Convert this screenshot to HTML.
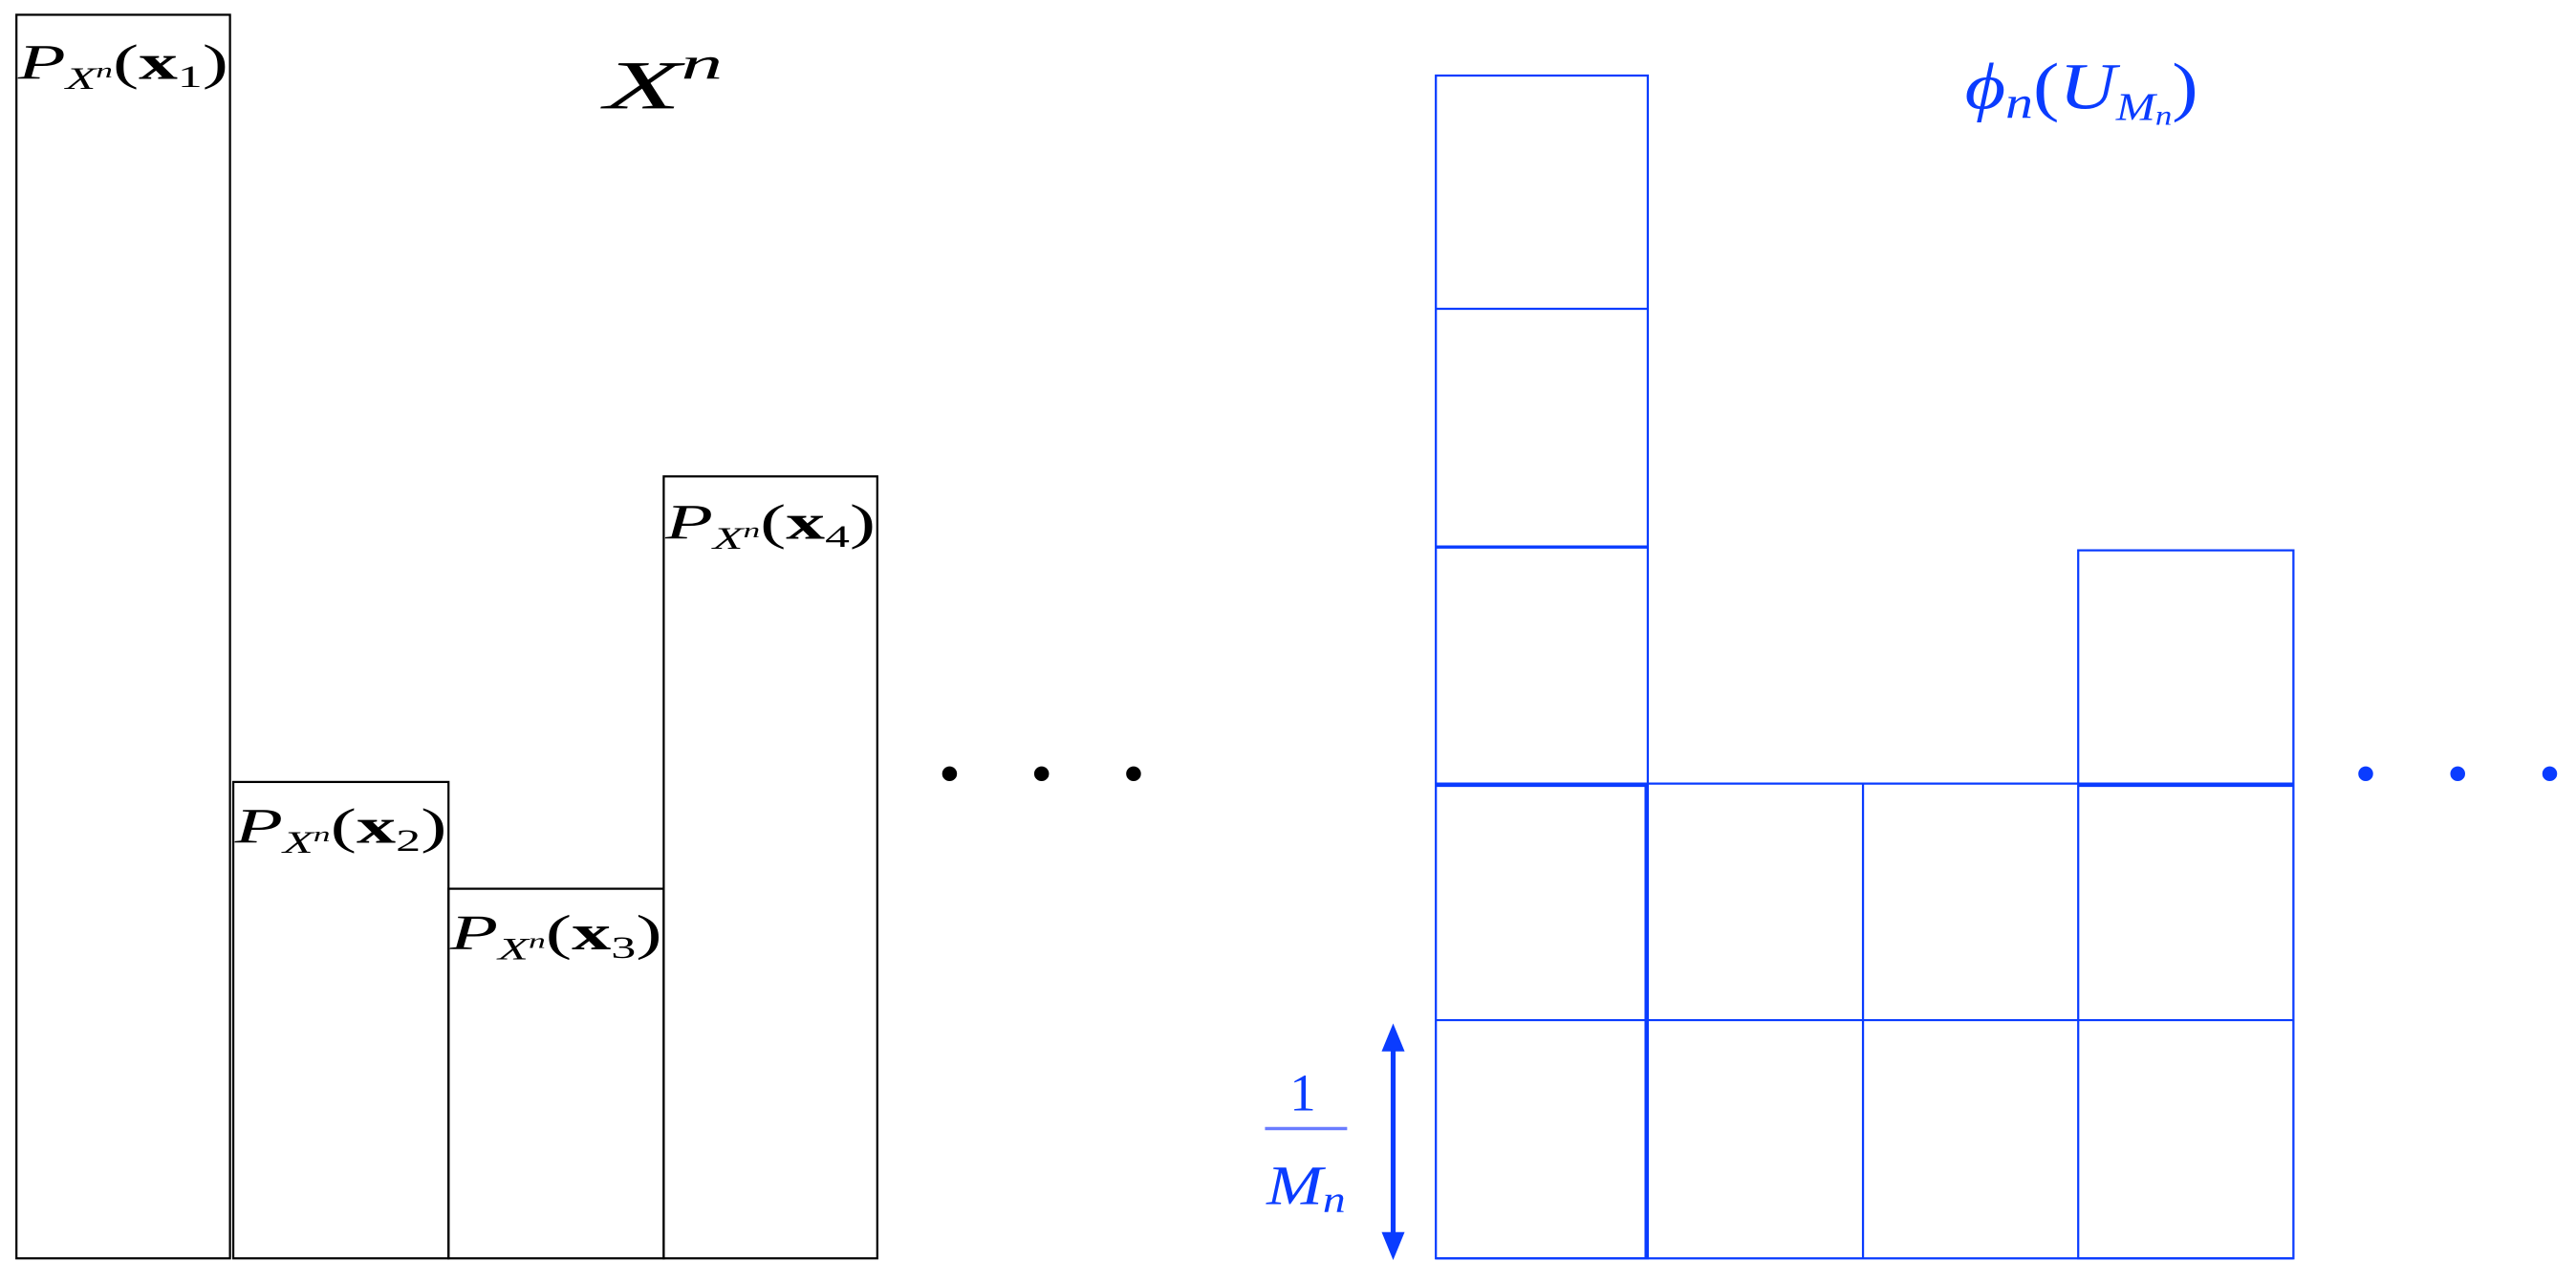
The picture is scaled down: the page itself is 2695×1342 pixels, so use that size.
<!DOCTYPE html>
<html><head><style>html,body{margin:0;padding:0;background:#fff;}svg{display:block}</style></head>
<body>
<svg width="2695" height="1342" viewBox="0 0 1568 781" preserveAspectRatio="none" xmlns="http://www.w3.org/2000/svg">
<g fill="none" stroke="#000" stroke-width="1.3">
<rect x="10" y="9" width="130" height="757"/>
<rect x="142" y="476" width="131" height="290"/>
<rect x="273" y="541" width="131" height="225"/>
<rect x="404" y="290" width="130" height="476"/>
</g>
<g font-family="Liberation Serif, serif" font-size="30" fill="#000">
<text x="11" y="48" textLength="128" lengthAdjust="spacingAndGlyphs"><tspan font-style="italic">P</tspan><tspan font-style="italic" font-size="19" dy="6">X</tspan><tspan font-style="italic" font-size="13" dy="-7">n</tspan><tspan dy="1">(</tspan><tspan font-weight="bold">x</tspan><tspan font-size="19" dy="5">1</tspan><tspan dy="-5">)</tspan></text>
<text x="143" y="513" textLength="129" lengthAdjust="spacingAndGlyphs"><tspan font-style="italic">P</tspan><tspan font-style="italic" font-size="19" dy="6">X</tspan><tspan font-style="italic" font-size="13" dy="-7">n</tspan><tspan dy="1">(</tspan><tspan font-weight="bold">x</tspan><tspan font-size="19" dy="5">2</tspan><tspan dy="-5">)</tspan></text>
<text x="274" y="578" textLength="129" lengthAdjust="spacingAndGlyphs"><tspan font-style="italic">P</tspan><tspan font-style="italic" font-size="19" dy="6">X</tspan><tspan font-style="italic" font-size="13" dy="-7">n</tspan><tspan dy="1">(</tspan><tspan font-weight="bold">x</tspan><tspan font-size="19" dy="5">3</tspan><tspan dy="-5">)</tspan></text>
<text x="405" y="328" textLength="128" lengthAdjust="spacingAndGlyphs"><tspan font-style="italic">P</tspan><tspan font-style="italic" font-size="19" dy="6">X</tspan><tspan font-style="italic" font-size="13" dy="-7">n</tspan><tspan dy="1">(</tspan><tspan font-weight="bold">x</tspan><tspan font-size="19" dy="5">4</tspan><tspan dy="-5">)</tspan></text>
<text x="368" y="66" font-size="42" font-style="italic" textLength="72" lengthAdjust="spacingAndGlyphs">X<tspan font-size="28" dy="-18">n</tspan></text>
</g>
<g fill="#000"><circle cx="578" cy="471" r="4.5"/><circle cx="634" cy="471" r="4.5"/><circle cx="690" cy="471" r="4.5"/></g>
<g fill="none" stroke="#0a3cff" stroke-width="1.3">
<rect x="874" y="46" width="129" height="720"/>
<line x1="874" y1="188" x2="1003" y2="188"/>
<line x1="874" y1="333" x2="1003" y2="333" stroke-width="2"/>
<line x1="874" y1="477" x2="1396" y2="477" stroke-width="1.3"/>
<line x1="874" y1="478" x2="1003" y2="478" stroke-width="2"/>
<line x1="1265" y1="478" x2="1396" y2="478" stroke-width="2"/>
<line x1="874" y1="621" x2="1396" y2="621"/>
<line x1="874" y1="766" x2="1396" y2="766"/>
<line x1="1002" y1="477" x2="1002" y2="766" stroke-width="2"/>
<line x1="1134" y1="477" x2="1134" y2="766"/>
<rect x="1265" y="335" width="131" height="431"/>
<line x1="848" y1="636" x2="848" y2="754" stroke-width="3"/>
</g>
<g fill="#0a3cff">
<polygon points="848,623 841,640 855,640"/>
<polygon points="848,767 841,750 855,750"/>
<circle cx="1440" cy="471" r="4.5"/><circle cx="1496" cy="471" r="4.5"/><circle cx="1552" cy="471" r="4.5"/>
<rect x="770" y="686" width="50" height="2" fill="#6a7cff"/>
</g>
<g font-family="Liberation Serif, serif" fill="#0a3cff">
<text x="785" y="676" font-size="32">1</text>
<text x="771" y="733" font-size="34" font-style="italic" textLength="48" lengthAdjust="spacingAndGlyphs">M<tspan font-size="23" dy="5">n</tspan></text>
<text x="1196" y="66" font-size="40" font-style="italic" textLength="142" lengthAdjust="spacingAndGlyphs">ϕ<tspan font-size="28" dy="6">n</tspan><tspan font-style="normal" dy="-6">(</tspan>U<tspan font-size="24" dy="7">M</tspan><tspan font-size="17" dy="3">n</tspan><tspan font-style="normal" dy="-10">)</tspan></text>
</g>
</svg>
</body></html>
